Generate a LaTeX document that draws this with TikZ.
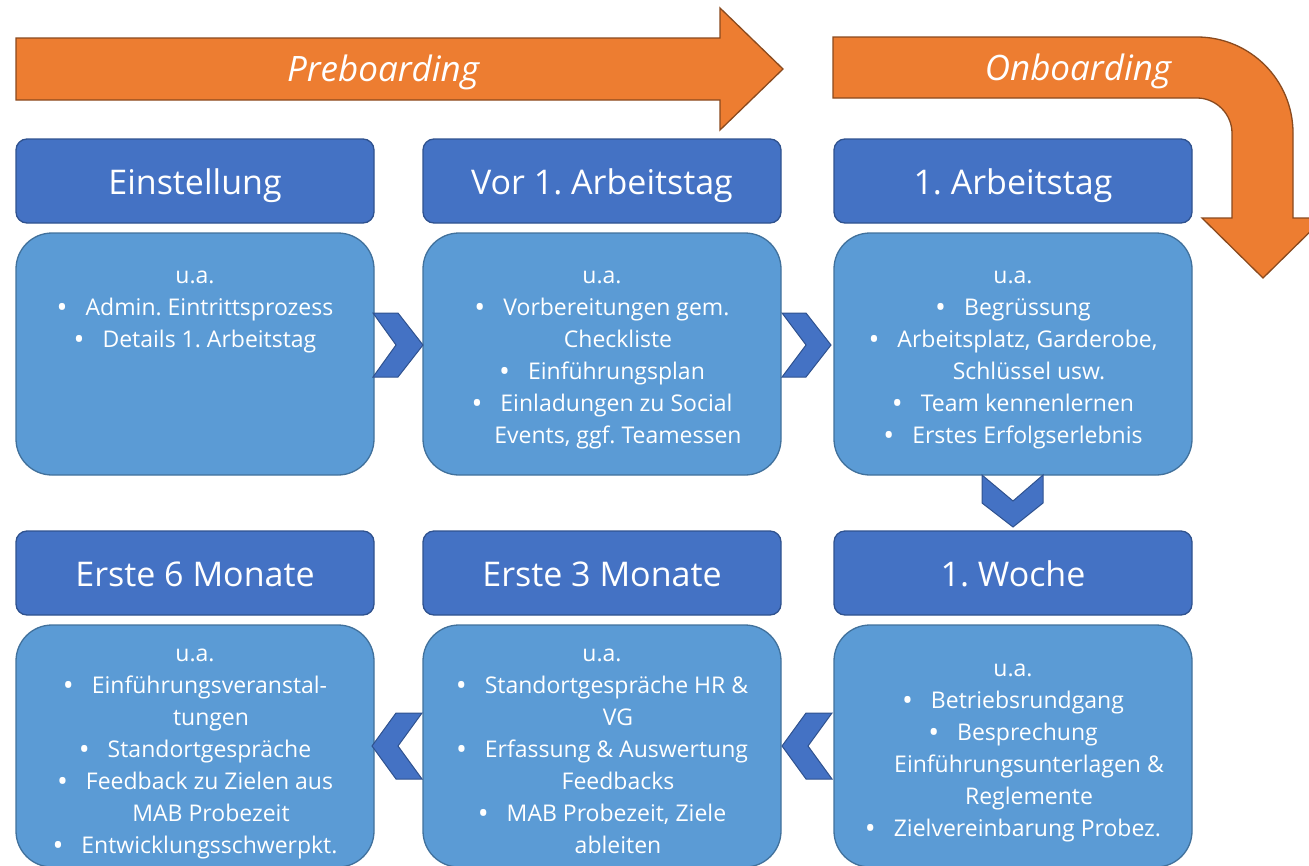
\documentclass[tikz,border=0pt]{standalone}
\usepackage{fontspec}
\setmainfont{Open Sans}
\usetikzlibrary{calc}
\definecolor{titleblue}{HTML}{4472C4}
\definecolor{titleline}{HTML}{2F528F}
\definecolor{boxblue}{HTML}{5B9BD5}
\definecolor{boxline}{HTML}{41719C}
\definecolor{orangef}{HTML}{ED7D31}
\definecolor{orangel}{HTML}{8A4A1E}
\newcommand\bl{\raisebox{-1.5pt}{\fontsize{29}{29}\selectfont\textbullet}\hspace{18pt}}
\newcommand\cl{\hspace*{32pt}}
\frenchspacing
\begin{document}
\begin{tikzpicture}[x=1pt,y=-1pt,
  titlebox/.style={draw=titleline,fill=titleblue,line width=1.3pt,rounded corners=11pt,
     minimum width=358pt,minimum height=84pt,inner sep=0pt,text=white,
     text height=30pt,text depth=4pt,
     font=\fontsize{34}{40}\selectfont},
  contentbox/.style={draw=boxline,fill=boxblue,line width=1.3pt,rounded corners=36pt,
     minimum width=358pt,minimum height=242pt,inner sep=0pt},
  bodytext/.style={text=white,align=center,inner sep=0pt,anchor=north,
     font=\fontsize{23}{32}\selectfont},
  chev/.style={draw=titleline,fill=titleblue,line width=1pt,line join=miter},
  bigarrow/.style={draw=orangel,fill=orangef,line width=1.3pt,line join=miter},
  arrowtext/.style={text=white,font=\fontsize{35}{40}\selectfont\itshape,inner sep=0pt}]
\useasboundingbox (0,0) rectangle (1309,865);

% big orange arrows
\draw[bigarrow] (16,38) -- (720,38) -- (720,8) -- (783,69) -- (720,130) -- (720,100) -- (16,100) -- cycle;
\node[arrowtext] (pre) at (383,72) {Preboarding};

\draw[bigarrow] (833,37) -- (1197,37)
  .. controls (1250,37) and (1293,80) .. (1293,133)
  -- (1293,218) -- (1324,218) -- (1263,278) -- (1202,218) -- (1232,218) -- (1232,133)
  .. controls (1232,114) and (1216,98) .. (1197,98)
  -- (833,98) -- cycle;
\node[arrowtext] (on) at (1078,71) {Onboarding};

% title boxes
\node[titlebox] (t1) at (195,181) {Einstellung};
\node[titlebox] (t2) at (602,181) {Vor 1. Arbeitstag};
\node[titlebox] (t3) at (1013,181) {1. Arbeitstag};
\node[titlebox] (t4) at (195,573) {Erste 6 Monate};
\node[titlebox] (t5) at (602,573) {Erste 3 Monate};
\node[titlebox] (t6) at (1013,573) {1. Woche};

% content boxes
\node[contentbox] (c1) at (195,354) {};
\node[contentbox] (c2) at (602,354) {};
\node[contentbox] (c3) at (1013,354) {};
\node[contentbox] (c4) at (195,746) {};
\node[contentbox] (c5) at (602,746) {};
\node[contentbox] (c6) at (1013,746) {};

% chevrons
\draw[chev] (373,313) -- (398,313) -- (423,345) -- (398,377) -- (373,377) -- (396,345) -- cycle;
\draw[chev] (782,313) -- (806,313) -- (831,345) -- (806,377) -- (782,377) -- (806,345) -- cycle;
\draw[chev] (982,475) -- (1013,501) -- (1043,475) -- (1043,503) -- (1013,527) -- (982,503) -- cycle;
\draw[chev] (832,713) -- (806,713) -- (782,746) -- (806,779) -- (832,779) -- (808,746) -- cycle;
\draw[chev] (422,713) -- (396,713) -- (372,746) -- (396,779) -- (422,779) -- (398,746) -- cycle;

% body texts
\node[bodytext] (x1) at (195,271) {u.a.\\ \bl Admin. Eintrittsprozess\\ \bl Details 1. Arbeitstag};
\node[bodytext] (x2) at (602,271) {u.a.\\ \bl Vorbereitungen gem.\\ \cl Checkliste\\ \bl Einführungsplan\\ \bl Einladungen zu Social\\ \cl Events, ggf. Teamessen};
\node[bodytext] (x3) at (1013,271) {u.a.\\ \bl Begrüssung\\ \bl Arbeitsplatz, Garderobe,\\ \cl Schlüssel usw.\\ \bl Team kennenlernen\\ \bl Erstes Erfolgserlebnis};
\node[bodytext] (x4) at (195,649) {u.a.\\ \bl Einführungsveranstal-\\ \cl tungen\\ \bl Standortgespräche\\ \bl Feedback zu Zielen aus\\ \cl MAB Probezeit\\ \bl Entwicklungsschwerpkt.};
\node[bodytext] (x5) at (602,649) {u.a.\\ \bl Standortgespräche HR \&\\ \cl VG\\ \bl Erfassung \& Auswertung\\ \cl Feedbacks\\ \bl MAB Probezeit, Ziele\\ \cl ableiten};
\node[bodytext] (x6) at (1013,664) {u.a.\\ \bl Betriebsrundgang\\ \bl Besprechung\\ \cl Einführungsunterlagen \&\\ \cl Reglemente\\ \bl Zielvereinbarung Probez.};
\end{tikzpicture}
\end{document}
